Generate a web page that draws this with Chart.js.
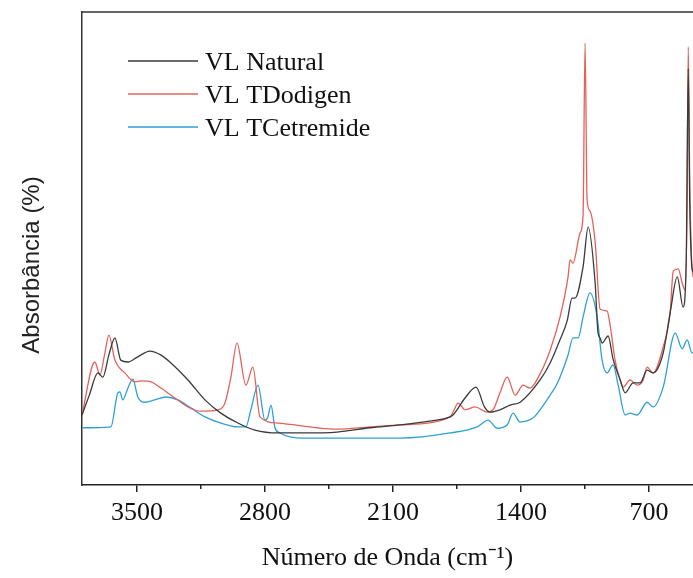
<!DOCTYPE html>
<html>
<head>
<meta charset="utf-8">
<script src="https://cdn.jsdelivr.net/npm/chart.js@4.4.1/dist/chart.umd.min.js"></script>
<style>
  html, body { margin: 0; padding: 0; background: #fff; }
  #wrap { width: 693px; height: 578px; }
</style>
</head>
<body>
<div id="wrap"><canvas id="ftirChart" width="693" height="578"></canvas></div>
<script>
// Series labels and colours
const seriesLabels = ["VL Natural", "VL TDodigen", "VL TCetremide"];
const seriesColors = ["#3a3a3a", "#e2625a", "#2f9fd4"];

// Axis ticks (wavenumber, cm-1)
const majorTicks = [3500, 2800, 2100, 1400, 700];
const minorTicks = [3150, 2450, 1750, 1050];
const xMin = 460;
const xMax = 3800;

// VL Natural
const naturalWn = [3800, 3760, 3713, 3686, 3653, 3620, 3588, 3549, 3495, 3429, 3370, 3314, 3221, 3128, 3041, 2948, 2855, 2729, 2592, 2406, 2226, 2062, 1900, 1788, 1772, 1706, 1646, 1600, 1569, 1515, 1460, 1405, 1296, 1241, 1187, 1148, 1121, 1105, 1061, 1033, 995, 979, 968, 957, 924, 897, 858, 831, 787, 749, 711, 678, 623, 585, 546, 514, 497, 486, 478, 468, 460];
const naturalAbs = [14.8, 19.0, 23.7, 22.8, 27.5, 31.1, 26.4, 26.0, 27.1, 28.3, 27.5, 25.8, 22.2, 18.0, 15.2, 13.1, 11.6, 11.0, 11.0, 11.2, 12.1, 12.7, 13.5, 14.4, 14.8, 18.4, 20.7, 16.5, 15.4, 15.9, 16.9, 17.5, 22.2, 25.8, 30.7, 34.7, 39.5, 39.5, 46.1, 54.5, 42.7, 32.1, 31.1, 30.0, 31.5, 26.6, 22.2, 19.5, 21.6, 21.6, 24.3, 23.7, 27.9, 36.4, 44.0, 37.6, 47.6, 88.0, 60.0, 47.0, 45.0];

// VL TDodigen
const dodigenWn = [3800, 3730, 3702, 3675, 3653, 3620, 3566, 3511, 3478, 3423, 3369, 3292, 3221, 3150, 3057, 3019, 2986, 2953, 2904, 2866, 2827, 2729, 2516, 2406, 2226, 2062, 1788, 1772, 1744, 1706, 1651, 1586, 1553, 1515, 1476, 1432, 1389, 1351, 1296, 1241, 1187, 1143, 1132, 1116, 1077, 1061, 1050, 1039, 1023, 995, 968, 930, 913, 886, 858, 842, 804, 765, 732, 711, 678, 623, 585, 568, 541, 519, 503, 492, 486, 478, 468, 460];
const dodigenAbs = [14.8, 26.0, 23.3, 27.9, 31.7, 26.4, 23.7, 21.8, 22.0, 21.8, 20.5, 18.4, 16.5, 15.6, 15.9, 17.3, 22.8, 30.0, 21.1, 24.9, 14.4, 13.1, 12.1, 11.8, 12.3, 12.7, 14.4, 15.4, 17.3, 15.9, 16.5, 15.4, 15.9, 19.5, 22.8, 19.0, 21.1, 20.5, 23.5, 28.5, 35.5, 44.0, 47.6, 46.9, 53.3, 57.0, 93.4, 60.3, 57.9, 51.4, 37.2, 36.8, 33.8, 26.4, 22.2, 20.7, 22.2, 21.1, 22.2, 24.9, 23.7, 29.2, 36.4, 45.2, 45.7, 42.7, 41.2, 60.3, 92.6, 65.0, 48.0, 44.0];

// VL TCetremide
const cetremideWn = [3800, 3642, 3604, 3593, 3577, 3549, 3522, 3495, 3456, 3402, 3341, 3276, 3205, 3128, 3041, 2948, 2904, 2877, 2838, 2800, 2784, 2767, 2745, 2718, 2592, 2406, 2062, 1788, 1640, 1580, 1531, 1476, 1444, 1405, 1334, 1296, 1241, 1203, 1143, 1116, 1088, 1061, 1023, 984, 957, 930, 897, 869, 831, 804, 765, 711, 678, 623, 557, 519, 492, 465, 460];
const cetremideAbs = [12.1, 12.3, 19.5, 19.7, 18.0, 20.5, 22.4, 18.6, 17.5, 18.0, 18.6, 18.0, 16.3, 14.4, 13.1, 12.3, 12.3, 15.9, 21.1, 13.7, 14.4, 16.9, 12.1, 11.0, 9.9, 9.9, 9.9, 11.0, 12.3, 13.7, 12.0, 12.7, 15.2, 13.3, 14.2, 15.9, 19.0, 21.4, 27.5, 31.1, 31.1, 35.5, 40.6, 35.5, 26.4, 23.7, 25.4, 21.1, 14.8, 15.2, 14.8, 17.5, 16.5, 20.7, 32.1, 28.8, 30.7, 27.9, 28.0];

const toPoints = (wn, abs) => wn.map((w, i) => ({ x: w, y: abs[i] }));

const SERIF = '"Liberation Serif", "Times New Roman", serif';
const SANS = '"Liberation Sans", Arial, sans-serif';

/**
 * Frame, legend and y title drawn on the canvas
 */
const decorPlugin = {
  id: "decor",
  beforeDraw(chart) {
    const ctx = chart.ctx;
    ctx.save();
    ctx.fillStyle = "#ffffff";
    ctx.fillRect(0, 0, chart.width, chart.height);
    ctx.restore();
  },
  afterDraw(chart) {
    const ctx = chart.ctx;
    const area = chart.chartArea;

    // top frame line
    ctx.save();
    ctx.strokeStyle = "#333333";
    ctx.lineWidth = 1.5;
    ctx.beginPath();
    ctx.moveTo(area.left, area.top);
    ctx.lineTo(area.right, area.top);
    ctx.stroke();

    // legend
    ctx.font = "26px " + SERIF;
    ctx.textAlign = "left";
    ctx.textBaseline = "alphabetic";
    chart.data.datasets.forEach((ds, i) => {
      const y = 61 + i * 33;
      ctx.strokeStyle = ds.borderColor;
      ctx.lineWidth = 1.4;
      ctx.beginPath();
      ctx.moveTo(128, y);
      ctx.lineTo(198, y);
      ctx.stroke();
      ctx.fillStyle = "#111111";
      ctx.fillText(ds.label, 205, y + 8.5);
    });

    // y axis title
    ctx.translate(32, 265);
    ctx.rotate(-Math.PI / 2);
    ctx.font = "24px " + SANS;
    ctx.textAlign = "center";
    ctx.textBaseline = "middle";
    ctx.fillStyle = "#222222";
    ctx.fillText("Absorbância (%)", 0, 0);
    ctx.restore();
  },
};

const ctx = document.getElementById("ftirChart").getContext("2d");
new Chart(ctx, {
  type: "line",
  data: {
    datasets: [
      { label: seriesLabels[0], data: toPoints(naturalWn, naturalAbs), borderColor: seriesColors[0] },
      { label: seriesLabels[1], data: toPoints(dodigenWn, dodigenAbs), borderColor: seriesColors[1] },
      { label: seriesLabels[2], data: toPoints(cetremideWn, cetremideAbs), borderColor: seriesColors[2] },
    ].map((d) => ({
      ...d,
      borderWidth: 1.3,
      pointRadius: 0,
      fill: false,
      cubicInterpolationMode: "monotone",
    })),
  },
  options: {
    responsive: false,
    animation: false,
    devicePixelRatio: 1,
    layout: { padding: { top: 12, left: 0, right: 0, bottom: 0 } },
    plugins: {
      legend: { display: false },
      tooltip: { enabled: false },
    },
    scales: {
      x: {
        type: "linear",
        position: "bottom",
        reverse: true,
        min: xMin,
        max: xMax,
        afterBuildTicks: (scale) => {
          scale.ticks = majorTicks.map((v) => ({ value: v }));
        },
        afterFit: (scale) => {
          scale.height = 93;
        },
        grid: {
          drawOnChartArea: false,
          drawTicks: true,
          tickLength: 7,
          color: "#222222",
          lineWidth: 1.5,
        },
        border: { display: true, color: "#222222", width: 1.5 },
        ticks: {
          color: "#111111",
          font: { family: SERIF, size: 26 },
          padding: 6,
          maxRotation: 0,
          callback: (v) => String(v),
        },
        title: {
          display: true,
          text: "Número de Onda (cm⁻¹)",
          color: "#111111",
          font: { family: SERIF, size: 26 },
          padding: { top: 0, bottom: 4 },
        },
      },
      xMinor: {
        type: "linear",
        position: "bottom",
        weight: -1,
        reverse: true,
        min: xMin,
        max: xMax,
        afterBuildTicks: (scale) => {
          scale.ticks = minorTicks.map((v) => ({ value: v }));
        },
        afterFit: (scale) => {
          scale.height = 0;
        },
        grid: {
          drawOnChartArea: false,
          drawTicks: true,
          tickLength: 4,
          color: "#222222",
          lineWidth: 1.5,
        },
        border: { display: false },
        ticks: { display: false },
      },
      y: {
        min: 0,
        max: 100,
        afterFit: (scale) => {
          scale.width = 82;
        },
        grid: { display: false },
        border: { display: true, color: "#333333", width: 1.5 },
        ticks: { display: false },
      },
    },
  },
  plugins: [decorPlugin],
});
</script>
</body>
</html>
